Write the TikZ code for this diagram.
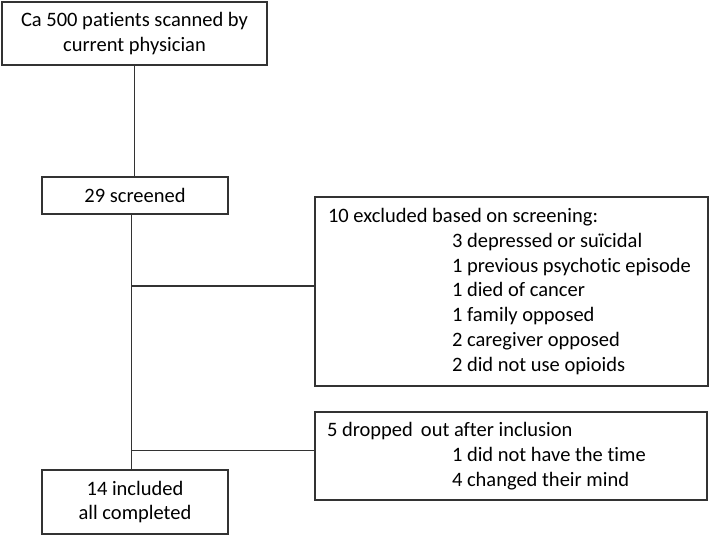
\documentclass[tikz,border=0pt]{standalone}
\usepackage{fontspec}
\setmainfont{Carlito}[Ligatures=NoCommon]
\usetikzlibrary{positioning}
\begin{document}
\begin{tikzpicture}[x=1pt,y=-1pt,
        box/.style={draw=black!80,line width=1.3pt,inner sep=0pt,font=\fontsize{20.5}{24.7}\selectfont},
        link/.style={draw=black!80,line width=1.3pt}]
    % Frame
    \useasboundingbox (0,0) rectangle (709,536);
    % Main column
    \node[box,minimum width=265pt,minimum height=63pt,align=center] (scanned) at (134.5,33.5)
        {Ca 500 patients scanned by\\current physician};
    \node[box,minimum width=186pt,minimum height=37pt] (screened) at (135,195.5) {29 screened};
    \node[box,minimum width=186pt,minimum height=64pt,align=center] (included) at (135,502)
        {14 included\\all completed};
    % Side boxes
    \node[box,inner xsep=13pt,text width=367pt,minimum height=189pt,align=flush left] (excluded) at (511.5,291.5)
        {10 excluded based on screening:\\
         \hspace*{124pt}3 depressed or suïcidal\\
         \hspace*{124pt}1 previous psychotic episode\\
         \hspace*{124pt}1 died of cancer\\
         \hspace*{124pt}1 family opposed\\
         \hspace*{124pt}2 caregiver opposed\\
         \hspace*{124pt}2 did not use opioids};
    \node[box,inner xsep=12pt,text width=368pt,minimum height=88pt,align=flush left] (dropped) at (511,456)
        {5 dropped\ \,out after inclusion\\
         \hspace*{125pt}1 did not have the time\\
         \hspace*{125pt}4 changed their mind};
    % Lines
    \coordinate (trunktop) at ([xshift=-3.5pt]screened.south);
    \coordinate (trunkend) at ([xshift=-3.5pt]included.north);
    \coordinate (jexcl) at (trunktop |- 0,286);
    \coordinate (jdrop) at (trunktop |- 0,450.5);
    \draw[link] (scanned.south) -- (scanned.south |- screened.north);
    \draw[link] (trunktop) -- (trunkend);
    \draw[link] (jexcl) -- (jexcl -| excluded.west);
    \draw[link] (jdrop) -- (jdrop -| dropped.west);
\end{tikzpicture}
\end{document}
